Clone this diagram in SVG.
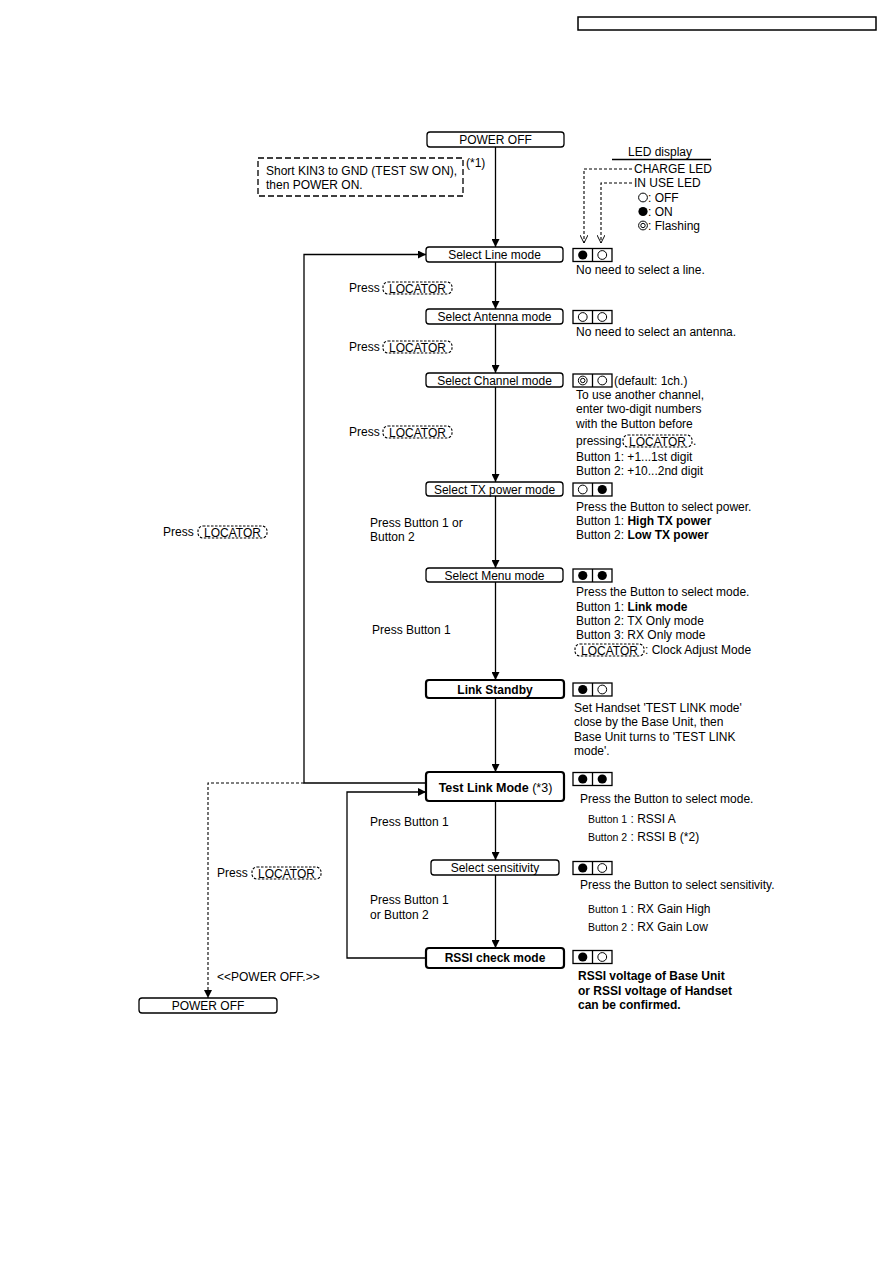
<svg xmlns="http://www.w3.org/2000/svg" xmlns:xlink="http://www.w3.org/1999/xlink" width="893" height="1263" viewBox="0 0 893 1263">
<style>
.t{font-family:"Liberation Sans",Arial,Helvetica,sans-serif;font-size:12px;fill:#000}
.s{font-size:10.5px}
.c{text-anchor:middle}
.b{font-weight:bold}
.box{fill:#fff;stroke:#000;stroke-width:1.3}
.bbox{fill:#fff;stroke:#000;stroke-width:2.2}
.led{fill:#fff;stroke:#000;stroke-width:1.3}
.on{fill:#000}
.off{fill:#fff;stroke:#000;stroke-width:1}
.ln{fill:none;stroke:#000;stroke-width:1.3}
.dash{fill:none;stroke:#000;stroke-width:1.1;stroke-dasharray:3 2}
.dbox{fill:none;stroke:#000;stroke-width:1.3;stroke-dasharray:6 3}
.key{fill:#fff;stroke:#000;stroke-width:1.1;stroke-dasharray:2.5 1.5}
</style>
<defs>
<marker id="ah" viewBox="0 0 10 10" refX="10" refY="5" markerWidth="9" markerHeight="8" orient="auto" markerUnits="userSpaceOnUse">
<path d="M0,0 L10,5 L0,10 z" fill="#000"/>
</marker>
<marker id="oa" viewBox="0 0 10 10" refX="10" refY="5" markerWidth="10" markerHeight="8" orient="auto" markerUnits="userSpaceOnUse">
<path d="M0,0 L10,5 L0,10" fill="none" stroke="#000" stroke-width="1.2"/>
</marker>
<g id="loc"><rect class="key" x="0" y="0" width="69" height="12" rx="5"/><text class="t c" x="34.5" y="10.5">LOCATOR</text></g>
<g id="ledOnOff"><rect class="led" x="0" y="0" width="39" height="13"/><line class="ln" x1="19.5" y1="0" x2="19.5" y2="13"/><circle class="on" cx="9.75" cy="6.5" r="4.6"/><circle class="off" cx="29.25" cy="6.5" r="4.4"/></g>
<g id="ledOffOff"><rect class="led" x="0" y="0" width="39" height="13"/><line class="ln" x1="19.5" y1="0" x2="19.5" y2="13"/><circle class="off" cx="9.75" cy="6.5" r="4.4"/><circle class="off" cx="29.25" cy="6.5" r="4.4"/></g>
<g id="ledOffOn"><rect class="led" x="0" y="0" width="39" height="13"/><line class="ln" x1="19.5" y1="0" x2="19.5" y2="13"/><circle class="off" cx="9.75" cy="6.5" r="4.4"/><circle class="on" cx="29.25" cy="6.5" r="4.6"/></g>
<g id="ledOnOn"><rect class="led" x="0" y="0" width="39" height="13"/><line class="ln" x1="19.5" y1="0" x2="19.5" y2="13"/><circle class="on" cx="9.75" cy="6.5" r="4.6"/><circle class="on" cx="29.25" cy="6.5" r="4.6"/></g>
<g id="ledFlOff"><rect class="led" x="0" y="0" width="39" height="13"/><line class="ln" x1="19.5" y1="0" x2="19.5" y2="13"/><circle class="off" cx="9.75" cy="6.5" r="4.4"/><circle class="off" cx="9.75" cy="6.5" r="2.2"/><circle class="off" cx="29.25" cy="6.5" r="4.4"/></g>
</defs>
<rect width="893" height="1263" fill="#fff"/>

<rect id="header" x="578" y="17" width="298" height="13" fill="none" stroke="#000" stroke-width="1.5"/>

<g id="connectors">
<path class="ln" d="M495.5,147 V247" marker-end="url(#ah)"/>
<path class="ln" d="M495.5,262 V309" marker-end="url(#ah)"/>
<path class="ln" d="M495.5,324 V373" marker-end="url(#ah)"/>
<path class="ln" d="M495.5,387 V482" marker-end="url(#ah)"/>
<path class="ln" d="M495.5,496 V568" marker-end="url(#ah)"/>
<path class="ln" d="M495.5,582 V680" marker-end="url(#ah)"/>
<path class="ln" d="M495.5,698 V772" marker-end="url(#ah)"/>
<path class="ln" d="M495.5,801 V860" marker-end="url(#ah)"/>
<path class="ln" d="M495.5,875 V948" marker-end="url(#ah)"/>
<path class="ln" d="M426,783 H304 V254.5 H426" marker-end="url(#ah)"/>
<path class="ln" d="M426,958 H347 V792 H426" marker-end="url(#ah)"/>
<path class="dash" d="M304,783 H208 V998" marker-end="url(#ah)"/>
<path class="dash" d="M632,169 H584 V243" marker-end="url(#oa)"/>
<path class="dash" d="M632,183 H601 V243" marker-end="url(#oa)"/>
</g>

<g id="power-off-top">
<rect class="box" x="427" y="132" width="137" height="15" rx="3"/>
<text class="t c" x="495.5" y="144">POWER OFF</text>
</g>

<g id="note-test-sw">
<rect class="dbox" x="258" y="158" width="205" height="38"/>
<text class="t" x="266" y="175">Short KIN3 to GND (TEST SW ON),</text>
<text class="t" x="266" y="189">then POWER ON.</text>
<text class="t" x="466" y="167">(*1)</text>
</g>

<g id="led-legend">
<text class="t" x="628" y="156">LED display</text>
<line class="ln" x1="612" y1="159.5" x2="711" y2="159.5"/>
<text class="t" x="634" y="173">CHARGE LED</text>
<text class="t" x="634" y="187">IN USE LED</text>
<circle class="off" cx="643" cy="197.5" r="4.4"/>
<text class="t" x="648" y="202">: OFF</text>
<circle class="on" cx="643" cy="211.5" r="4.6"/>
<text class="t" x="648" y="216">: ON</text>
<circle class="off" cx="643" cy="225.5" r="4.4"/>
<circle class="off" cx="643" cy="225.5" r="2.2"/>
<text class="t" x="648" y="230">: Flashing</text>
</g>

<g id="select-line">
<rect class="box" x="426" y="247" width="137" height="15" rx="3"/>
<text class="t c" x="494.5" y="259">Select Line mode</text>
<use xlink:href="#ledOnOff" x="573" y="248.5"/>
<text class="t" x="576" y="274">No need to select a line.</text>
<text class="t" x="349" y="292">Press</text>
<use xlink:href="#loc" x="383" y="282"/>
</g>

<g id="select-antenna">
<rect class="box" x="426" y="309" width="137" height="15" rx="3"/>
<text class="t c" x="494.5" y="321">Select Antenna mode</text>
<use xlink:href="#ledOffOff" x="573" y="310.5"/>
<text class="t" x="576" y="336">No need to select an antenna.</text>
<text class="t" x="349" y="351">Press</text>
<use xlink:href="#loc" x="383" y="341"/>
</g>

<g id="select-channel">
<rect class="box" x="426" y="373" width="137" height="14" rx="3"/>
<text class="t c" x="494.5" y="384.5">Select Channel mode</text>
<use xlink:href="#ledFlOff" x="573" y="374"/>
<text class="t" x="614" y="385">(default: 1ch.)</text>
<text class="t" x="576" y="399">To use another channel,</text>
<text class="t" x="576" y="413">enter two-digit numbers</text>
<text class="t" x="576" y="428">with the Button before</text>
<text class="t" x="576" y="445">pressing</text>
<use xlink:href="#loc" x="623" y="435"/>
<text class="t" x="693" y="445">.</text>
<text class="t" x="576" y="461">Button 1: +1...1st digit</text>
<text class="t" x="576" y="475">Button 2: +10...2nd digit</text>
<text class="t" x="349" y="436">Press</text>
<use xlink:href="#loc" x="383" y="426"/>
</g>

<g id="select-tx-power">
<rect class="box" x="426" y="482" width="137" height="14" rx="3"/>
<text class="t c" x="494.5" y="493.5">Select TX power mode</text>
<use xlink:href="#ledOffOn" x="573" y="483"/>
<text class="t" x="576" y="511">Press the Button to select power.</text>
<text class="t" x="576" y="525">Button 1: <tspan class="b">High TX power</tspan></text>
<text class="t" x="576" y="539">Button 2: <tspan class="b">Low TX power</tspan></text>
<text class="t" x="370" y="527">Press Button 1 or</text>
<text class="t" x="370" y="541">Button 2</text>
</g>

<g id="loop-label">
<text class="t" x="163" y="536">Press</text>
<use xlink:href="#loc" x="198" y="526"/>
</g>

<g id="select-menu">
<rect class="box" x="426" y="568" width="137" height="14" rx="3"/>
<text class="t c" x="494.5" y="579.5">Select Menu mode</text>
<use xlink:href="#ledOnOn" x="573" y="569"/>
<text class="t" x="576" y="596">Press the Button to select mode.</text>
<text class="t" x="576" y="611">Button 1: <tspan class="b">Link mode</tspan></text>
<text class="t" x="576" y="625">Button 2: TX Only mode</text>
<text class="t" x="576" y="639">Button 3: RX Only mode</text>
<use xlink:href="#loc" x="575" y="644"/>
<text class="t" x="645" y="654">: Clock Adjust Mode</text>
<text class="t" x="372" y="634">Press Button 1</text>
</g>

<g id="link-standby">
<rect class="bbox" x="426" y="680" width="138" height="18" rx="3"/>
<text class="t c b" x="495" y="693.5">Link Standby</text>
<use xlink:href="#ledOnOff" x="573" y="683"/>
<text class="t" x="574" y="712">Set Handset 'TEST LINK mode'</text>
<text class="t" x="574" y="726">close by the Base Unit, then</text>
<text class="t" x="574" y="741">Base Unit turns to 'TEST LINK</text>
<text class="t" x="574" y="755">mode'.</text>
</g>

<g id="test-link-mode">
<rect class="bbox" x="426" y="772" width="138" height="29" rx="3"/>
<text class="t c" x="495.5" y="791.5" style="font-size:12.5px"><tspan class="b">Test Link Mode</tspan> (*3)</text>
<use xlink:href="#ledOnOn" x="573" y="772.5"/>
<text class="t" x="580" y="803">Press the Button to select mode.</text>
<text class="t" x="588" y="823"><tspan class="s">Button 1</tspan> : RSSI A</text>
<text class="t" x="588" y="841"><tspan class="s">Button 2</tspan> : RSSI B (*2)</text>
<text class="t" x="370" y="826">Press Button 1</text>
</g>

<g id="select-sensitivity">
<rect class="box" x="431" y="860" width="128" height="15" rx="3"/>
<text class="t c" x="495" y="872">Select sensitivity</text>
<use xlink:href="#ledOnOff" x="573" y="861.5"/>
<text class="t" x="580" y="889">Press the Button to select sensitivity.</text>
<text class="t" x="588" y="913"><tspan class="s">Button 1</tspan> : RX Gain High</text>
<text class="t" x="588" y="931"><tspan class="s">Button 2</tspan> : RX Gain Low</text>
<text class="t" x="370" y="904">Press Button 1</text>
<text class="t" x="370" y="919">or Button 2</text>
</g>

<g id="rssi-check-mode">
<rect class="bbox" x="426" y="948" width="138" height="20" rx="3"/>
<text class="t c b" x="495" y="962">RSSI check mode</text>
<use xlink:href="#ledOnOff" x="573" y="950.5"/>
<text class="t b" x="578" y="980">RSSI voltage of Base Unit</text>
<text class="t b" x="578" y="995">or RSSI voltage of Handset</text>
<text class="t b" x="578" y="1009">can be confirmed.</text>
</g>

<g id="power-off-label">
<text class="t" x="217" y="877">Press</text>
<use xlink:href="#loc" x="252" y="867"/>
<text class="t" x="217" y="981">&lt;&lt;POWER OFF.&gt;&gt;</text>
</g>

<g id="power-off-bottom">
<rect class="box" x="139" y="998" width="138" height="15" rx="3"/>
<text class="t c" x="208" y="1010">POWER OFF</text>
</g>
</svg>
